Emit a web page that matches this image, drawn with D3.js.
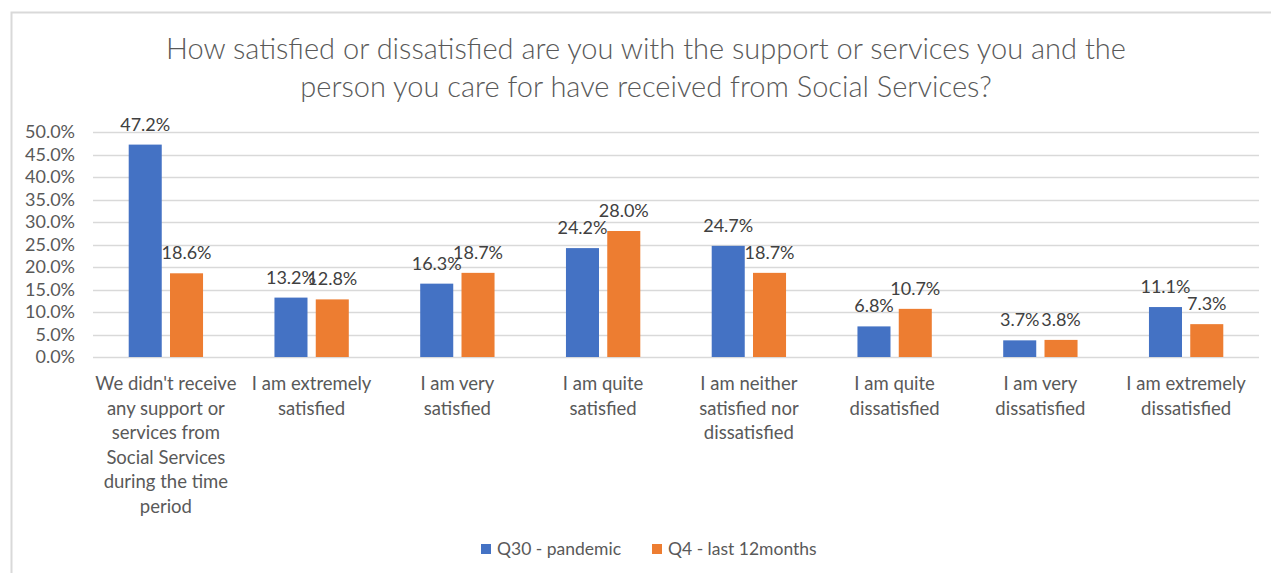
<!DOCTYPE html>
<html>
<head>
<meta charset="utf-8">
<script src="https://cdn.jsdelivr.net/npm/d3@7"></script>
<style>
  html, body { margin: 0; padding: 0; background: #fff; }
  svg { display: block; font-family: Lato, "Open Sans", sans-serif; }
</style>
</head>
<body>
<svg id="chart" width="1271" height="573"></svg>
<script>
// Response categories
const categories = [
  "We didn't receive any support or services from Social Services during the time period",
  "I am extremely satisfied",
  "I am very satisfied",
  "I am quite satisfied",
  "I am neither satisfied nor dissatisfied",
  "I am quite dissatisfied",
  "I am very dissatisfied",
  "I am extremely dissatisfied"
];
// Share of respondents per question (fractions)
const seriesNames = ["Q30 - pandemic", "Q4 - last 12months"];
const pandemic = [0.472, 0.132, 0.163, 0.242, 0.247, 0.068, 0.037, 0.111];
const last12 = [0.186, 0.128, 0.187, 0.280, 0.187, 0.107, 0.038, 0.073];
const yTicks = [0, 0.05, 0.10, 0.15, 0.20, 0.25, 0.30, 0.35, 0.40, 0.45, 0.50];
const titleLines = [
  "How satisfied or dissatisfied are you with the support or services you and the",
  "person you care for have received from Social Services?"
];
const colors = ["#4472C4", "#ED7D31"];

const svg = d3.select("#chart");
const W = 1271, H = 573;
const plot = { left: 93, right: 1259, top: 132, bottom: 357 };

// Chart frame
svg.append("path")
  .attr("d", `M11.5,${H} L11.5,12.5 L${W},12.5`)
  .attr("fill", "none").attr("stroke", "#d9d9d9").attr("stroke-width", 2);

// Title
svg.append("g").selectAll("text").data(titleLines).join("text")
  .attr("x", 646).attr("y", (d, i) => 59 + i * 38)
  .attr("text-anchor", "middle")
  .attr("font-size", 29).attr("font-weight", 300)
  .attr("fill", "#595959")
  .text(d => d);

const x0 = d3.scaleBand().domain(categories).range([plot.left, plot.right]).paddingInner(0.49).paddingOuter(0.245);
const x1 = d3.scaleBand().domain(seriesNames).range([0, x0.bandwidth()]).paddingInner(0.2);
const y = d3.scaleLinear().domain([0, 0.5]).range([plot.bottom, plot.top]);

// Gridlines
svg.append("g").selectAll("line").data(yTicks).join("line")
  .attr("x1", plot.left).attr("x2", plot.right)
  .attr("y1", d => Math.round(y(d)) + 0.5).attr("y2", d => Math.round(y(d)) + 0.5)
  .attr("stroke", "#d9d9d9").attr("stroke-width", 1.5);

// Y axis labels
const yAxis = d3.axisLeft(y).tickValues(yTicks).tickFormat(d3.format(".1%")).tickSize(0).tickPadding(0);
const yg = svg.append("g").attr("transform", `translate(75,0)`).call(yAxis);
yg.select(".domain").remove();
yg.selectAll("text").attr("font-family", "Lato, 'Open Sans', sans-serif")
  .attr("font-size", 18).attr("fill", "#595959");

// Bars with value labels above
const series = [pandemic, last12];
const groups = svg.append("g").selectAll("g").data(categories).join("g")
  .attr("transform", d => `translate(${x0(d)},0)`);

groups.each(function(cat, ci) {
  const g = d3.select(this);
  const vals = seriesNames.map((s, si) => ({ s, si, v: series[si][ci] }));
  g.selectAll("rect").data(vals).join("rect")
    .attr("x", d => x1(d.s))
    .attr("width", x1.bandwidth())
    .attr("y", d => y(d.v))
    .attr("height", d => y(0) - y(d.v))
    .attr("fill", d => colors[d.si]);
  g.selectAll("text.val").data(vals).join("text")
    .attr("class", "val")
    .attr("x", d => x1(d.s) + x1.bandwidth() / 2)
    .attr("y", d => y(d.v) - 14)
    .attr("text-anchor", "middle")
    .attr("font-size", 18).attr("fill", "#404040")
    .text(d => d3.format(".1%")(d.v));
});

// Category labels, wrapped to the band width
const catG = svg.append("g");
categories.forEach(cat => {
  const cx = x0(cat) + x0.bandwidth() / 2;
  const t = catG.append("text")
    .attr("x", cx)
    .attr("y", 390)
    .attr("text-anchor", "middle")
    .attr("font-size", 18.5).attr("fill", "#595959");
  const words = cat.split(" ");
  const maxW = 143;
  let line = [];
  let tspan = t.append("tspan").attr("x", cx).attr("dy", 0);
  words.forEach(w => {
    line.push(w);
    tspan.text(line.join(" "));
    if (tspan.node().getComputedTextLength() > maxW && line.length > 1) {
      line.pop();
      tspan.text(line.join(" "));
      line = [w];
      tspan = t.append("tspan").attr("x", cx).attr("dy", 24.5).text(w);
    }
  });
});

// Legend
const legend = svg.append("g");
const legendX = [481, 652];
seriesNames.forEach((s, i) => {
  legend.append("rect").attr("x", legendX[i]).attr("y", 544).attr("width", 10).attr("height", 10).attr("fill", colors[i]);
  legend.append("text").attr("x", legendX[i] + 16).attr("y", 555)
    .attr("font-size", 17.5).attr("fill", "#595959").text(s);
});
</script>
</body>
</html>
